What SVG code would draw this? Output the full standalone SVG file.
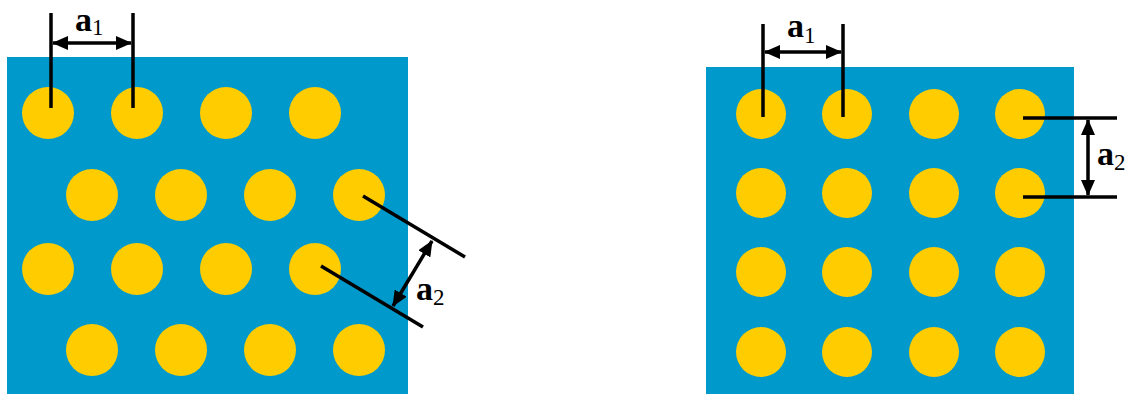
<svg xmlns="http://www.w3.org/2000/svg" width="1129" height="394" viewBox="0 0 1129 394">
<style>
.sub{fill:#0099cc}
.hole{fill:#ffcc00}
.ln{stroke:#000;stroke-width:3.5;fill:none}
.arr{stroke:#000;stroke-width:3.5;fill:none;marker-start:url(#ah);marker-end:url(#ah)}
.lbl{font-weight:bold;font-size:34px;fill:#000}
.s{font-weight:normal;font-size:23px}
</style>
<defs>
<marker id="ah" viewBox="0 0 16 14" refX="15" refY="7" markerWidth="16" markerHeight="14" markerUnits="userSpaceOnUse" orient="auto-start-reverse">
<path d="M0,0 L16,7 L0,14 z" fill="#000"/>
</marker>
</defs>
<g id="left-lattice">
<rect class="sub" x="7" y="57" width="401" height="337"/>
<circle class="hole" cx="48" cy="113" r="26"/>
<circle class="hole" cx="137" cy="113" r="26"/>
<circle class="hole" cx="226" cy="113" r="26"/>
<circle class="hole" cx="315" cy="113" r="26"/>
<circle class="hole" cx="92" cy="195" r="26"/>
<circle class="hole" cx="181" cy="195" r="26"/>
<circle class="hole" cx="270" cy="195" r="26"/>
<circle class="hole" cx="359" cy="195" r="26"/>
<circle class="hole" cx="48" cy="269" r="26"/>
<circle class="hole" cx="137" cy="269" r="26"/>
<circle class="hole" cx="226" cy="269" r="26"/>
<circle class="hole" cx="315" cy="269" r="26"/>
<circle class="hole" cx="92" cy="350" r="26"/>
<circle class="hole" cx="181" cy="350" r="26"/>
<circle class="hole" cx="270" cy="350" r="26"/>
<circle class="hole" cx="359" cy="350" r="26"/>
</g>
<g id="right-lattice">
<rect class="sub" x="706" y="67" width="368" height="327"/>
<circle class="hole" cx="761" cy="114" r="25"/>
<circle class="hole" cx="847" cy="114" r="25"/>
<circle class="hole" cx="934" cy="114" r="25"/>
<circle class="hole" cx="1020" cy="114" r="25"/>
<circle class="hole" cx="761" cy="193" r="25"/>
<circle class="hole" cx="847" cy="193" r="25"/>
<circle class="hole" cx="934" cy="193" r="25"/>
<circle class="hole" cx="1020" cy="193" r="25"/>
<circle class="hole" cx="761" cy="272" r="25"/>
<circle class="hole" cx="847" cy="272" r="25"/>
<circle class="hole" cx="934" cy="272" r="25"/>
<circle class="hole" cx="1020" cy="272" r="25"/>
<circle class="hole" cx="761" cy="352" r="25"/>
<circle class="hole" cx="847" cy="352" r="25"/>
<circle class="hole" cx="934" cy="352" r="25"/>
<circle class="hole" cx="1020" cy="352" r="25"/>
</g>
<g id="connectors">
<line class="ln" x1="51" y1="13" x2="51" y2="108"/>
<line class="ln" x1="133" y1="13" x2="133" y2="108"/>
<line class="arr" x1="53" y1="43" x2="131" y2="43"/>
<line class="ln" x1="363" y1="196" x2="465" y2="257"/>
<line class="ln" x1="321" y1="266" x2="423" y2="327"/>
<line class="arr" x1="432" y1="241" x2="393" y2="306"/>
<line class="ln" x1="763" y1="24" x2="763" y2="117"/>
<line class="ln" x1="843" y1="24" x2="843" y2="117"/>
<line class="arr" x1="765" y1="52" x2="841" y2="52"/>
<line class="ln" x1="1023" y1="118" x2="1117" y2="118"/>
<line class="ln" x1="1023" y1="197" x2="1117" y2="197"/>
<line class="arr" x1="1088" y1="120" x2="1088" y2="195"/>
</g>
<g id="labels" font-family="'Liberation Serif', 'DejaVu Serif', serif">
<text class="lbl" x="75" y="31" font-family="'Liberation Serif', 'DejaVu Serif', serif">a<tspan class="s" dy="4">1</tspan></text>
<text class="lbl" x="787" y="37" font-family="'Liberation Serif', 'DejaVu Serif', serif">a<tspan class="s" dy="6">1</tspan></text>
<text class="lbl" x="416" y="300" font-family="'Liberation Serif', 'DejaVu Serif', serif">a<tspan class="s" dy="5">2</tspan></text>
<text class="lbl" x="1097" y="165" font-family="'Liberation Serif', 'DejaVu Serif', serif">a<tspan class="s" dy="5">2</tspan></text>
</g>
</svg>
